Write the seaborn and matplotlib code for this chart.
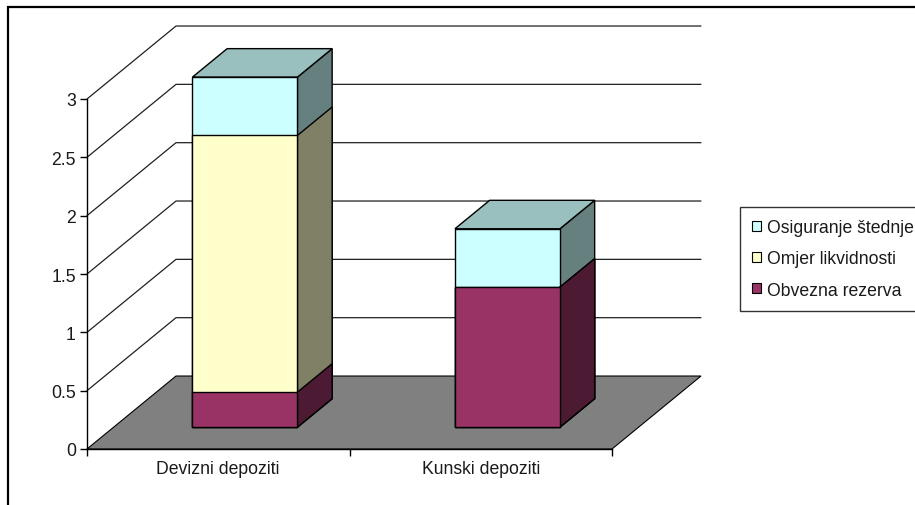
import numpy as np
import pandas as pd
import matplotlib
matplotlib.use("Agg")
import matplotlib.pyplot as plt
import seaborn as sns
from matplotlib.patches import Polygon, Patch, Rectangle
from matplotlib.transforms import Affine2D

# ---------------- data ----------------
categories = ["Devizni depoziti", "Kunski depoziti"]
series_names = ["Obvezna rezerva", "Omjer likvidnosti", "Osiguranje štednje"]
obvezna = [0.3, 1.2]
omjer = [2.2, 0.0]
osiguranje = [0.5, 0.5]
yticks = [0, 0.5, 1, 1.5, 2, 2.5, 3]
ytick_labels = ["0", "0.5", "1", "1.5", "2", "2.5", "3"]

# ---------------- style ----------------
front_colors = ["#993366", "#FFFFCC", "#CCFFFF"]
side_colors = ["#4D1A33", "#808066", "#668080"]
top_colors = ["#733D57", "#BFBF99", "#99BFBF"]

sns.set_style("ticks")
plt.rcParams["font.family"] = ["Liberation Sans", "DejaVu Sans"]
FS = 12.7

W, H = 915, 506
fig = plt.figure(figsize=(W / 100, H / 100), dpi=100)
ax = fig.add_axes([87 / W, (H - 450) / H, (612 - 87) / W, (450 - 100) / H])

# depth of the pseudo-3D box (data units)
DX = 89 / 262.5
DY = 73 / 116.7
f0, f1 = 0.30, 0.69

df = pd.DataFrame({"cat": categories, "obv": obvezna, "omj": omjer, "osi": osiguranje})
cum1 = df["obv"].to_numpy()
cum2 = cum1 + df["omj"].to_numpy()
cum3 = cum2 + df["osi"].to_numpy()
layers = [(cum3, 2), (cum2, 1), (cum1, 0)]

ox, oy = f0 * DX, f0 * DY
ddx, ddy = (f1 - f0) * DX, (f1 - f0) * DY
shift = Affine2D().translate(ox, oy) + ax.transData

z = 3.0
for li, (cum, si) in enumerate(layers):
    before = len(ax.patches)
    sns.barplot(x=df["cat"], y=cum, order=categories, color=front_colors[si],
                saturation=1, width=0.4, errorbar=None, edgecolor="black",
                linewidth=1.0, ax=ax)
    new = ax.patches[before:]
    for p in list(new):
        x0, w, h = p.get_x(), p.get_width(), p.get_height()
        t = h
        side = Polygon([(x0 + w, 0), (x0 + w + ddx, ddy), (x0 + w + ddx, t + ddy), (x0 + w, t)],
                       closed=True, facecolor=side_colors[si], edgecolor="black",
                       linewidth=1.0, transform=shift, clip_on=False, zorder=z)
        ax.add_patch(side)
        if li == 0:
            top = Polygon([(x0, t), (x0 + ddx, t + ddy), (x0 + w + ddx, t + ddy), (x0 + w, t)],
                          closed=True, facecolor=top_colors[si], edgecolor="black",
                          linewidth=1.0, transform=shift, clip_on=False, zorder=z)
            ax.add_patch(top)
        p.set_transform(shift)
        p.set_clip_on(False)
        p.set_zorder(z + 0.01)
        p.set_joinstyle("miter")
    z += 0.1

# floor
floor = Polygon([(-0.5, 0), (1.5, 0), (1.5 + DX, DY), (-0.5 + DX, DY)], closed=True,
                facecolor="#808080", edgecolor="black", linewidth=0.8,
                clip_on=False, zorder=1)
ax.add_patch(floor)

# wall gridlines
for v in yticks[1:]:
    ax.plot([-0.5, -0.5 + DX, 1.5 + DX], [v, v + DY, v + DY], color="#202020",
            linewidth=0.9, clip_on=False, zorder=1.5)

ax.set_xlim(-0.5, 1.5)
ax.set_ylim(0, 3)
ax.set_xlabel("")
ax.set_ylabel("")
ax.set_yticks(yticks)
ax.set_yticklabels(ytick_labels)
ax.set_xticks([-0.5, 0.5, 1.5])
ax.set_xticklabels([])
ax.set_xticks([0, 1], minor=True)
ax.set_xticklabels(categories, minor=True)
ax.tick_params(axis="x", which="major", direction="out", length=5, width=1, color="black")
ax.tick_params(axis="x", which="minor", length=0, pad=8, labelsize=FS, colors="#1a1a1a")
ax.tick_params(axis="y", direction="out", length=5, width=1, pad=3, labelsize=FS,
               colors="black", labelcolor="#1a1a1a")
for s in ["top", "right"]:
    ax.spines[s].set_visible(False)
for s in ["left", "bottom"]:
    ax.spines[s].set_color("black")
    ax.spines[s].set_linewidth(1)
    ax.spines[s].set_zorder(2)
ax.patch.set_alpha(0)

# legend
handles = [Patch(facecolor=front_colors[i], edgecolor="black", linewidth=0.8)
           for i in [2, 1, 0]]
labels = [series_names[i] for i in [2, 1, 0]]
leg = fig.legend(handles, labels, loc="upper left", bbox_to_anchor=(740 / W, 1 - 208 / H),
                 frameon=True, fancybox=False, shadow=False, edgecolor="black",
                 fontsize=FS, handlelength=0.5, handleheight=0.5, handletextpad=0.35,
                 labelspacing=0.8, borderpad=0.7, borderaxespad=0)
leg.get_frame().set_linewidth(1)
for txt in leg.get_texts():
    txt.set_color("#1a1a1a")

# outer chart border (left and top visible)
fig.add_artist(Rectangle((8 / W, -1), 2, 2 - 8 / H, transform=fig.transFigure,
                         fill=False, edgecolor="black", linewidth=1.6))

fig.savefig("out.png", dpi=100)
